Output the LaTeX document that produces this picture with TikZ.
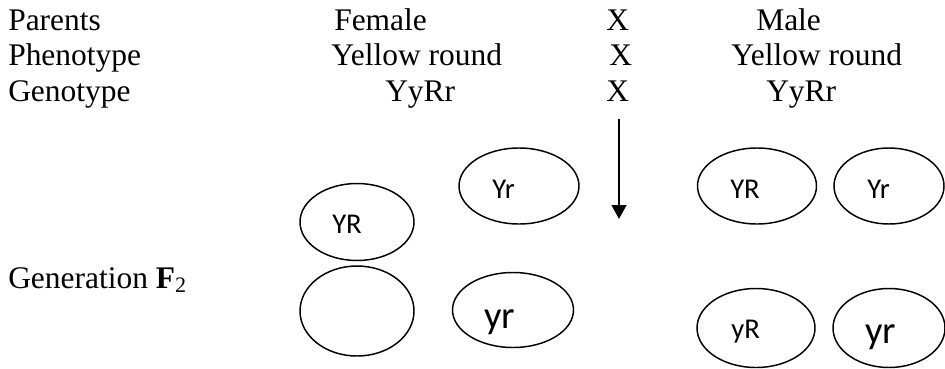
\documentclass[tikz,border=0pt]{standalone}
\usepackage{fontspec}
\setmainfont{Liberation Serif}
\newfontfamily\gamfont{Carlito}
\usetikzlibrary{positioning,shapes.geometric,arrows.meta}
\tikzset{rowtext/.style={anchor=base west,inner sep=0pt,font=\fontsize{23.6}{28}\selectfont},
         gamete/.style={draw,ellipse,line width=1.1pt,inner sep=0pt},
         allele/.style={anchor=base west,inner sep=0pt,font=\gamfont\fontsize{21.5}{26}\selectfont},
         bigallele/.style={allele,font=\gamfont\fontsize{29}{34}\selectfont}
}
\tikzstyle{arrow} = [line width=1.8pt,-{Triangle[length=10.5pt,width=11pt]}]
\begin{document}
\begin{tikzpicture}[x=0.75pt,y=-0.75pt]
\useasboundingbox (0,0) rectangle (945,368);

% parents rows
\node[rowtext] (par) at (8,30) {Parents};
\node[rowtext] (fem) at (334,30) {Female};
\node[rowtext] (x1) at (606,30) {X};
\node[rowtext] (male) at (756,30) {Male};
\node[rowtext] (phen) at (8,65) {Phenotype};
\node[rowtext] (fphen) at (331,65) {Yellow round};
\node[rowtext] (x2) at (609,65) {X};
\node[rowtext] (mphen) at (731,65) {Yellow round};
\node[rowtext] (geno) at (8,101) {Genotype};
\node[rowtext] (fgeno) at (385,101) {YyRr};
\node[rowtext] (x3) at (606,101) {X};
\node[rowtext] (mgeno) at (766,101) {YyRr};
\node[rowtext] (gf2) at (8,288) {Generation \textbf{F}\textsubscript{2}};

% cross arrow
\coordinate (down) at (619,119);
\coordinate (downend) at (619,219);
\draw[arrow] (down)--(downend);

% female gametes
\node[gamete,minimum width=85.5pt,minimum height=57.75pt] (fYR) at (357,222) {};
\node[gamete,minimum width=90pt,minimum height=57pt] (fYr) at (519,186) {};
\node[gamete,minimum width=85.5pt,minimum height=67.5pt] (fnone) at (357,311) {};
\node[gamete,minimum width=90.75pt,minimum height=56.25pt] (fyr) at (513,310) {};
\node[allele] at (332,233) {YR};
\node[allele] at (492,198) {Yr};
\node[bigallele] at (484,328) {yr};

% male gametes
\node[gamete,minimum width=89.25pt,minimum height=57pt] (mYR) at (757,186) {};
\node[gamete,minimum width=82.5pt,minimum height=57pt] (mYr) at (889,186) {};
\node[gamete,minimum width=88.5pt,minimum height=59.25pt] (myR) at (756,328) {};
\node[gamete,minimum width=84pt,minimum height=59.25pt] (myr) at (889,328) {};
\node[allele] at (730,198) {YR};
\node[allele] at (867,198) {Yr};
\node[allele] at (731,338) {yR};
\node[bigallele] at (865,343) {yr};

\end{tikzpicture}
\end{document}
